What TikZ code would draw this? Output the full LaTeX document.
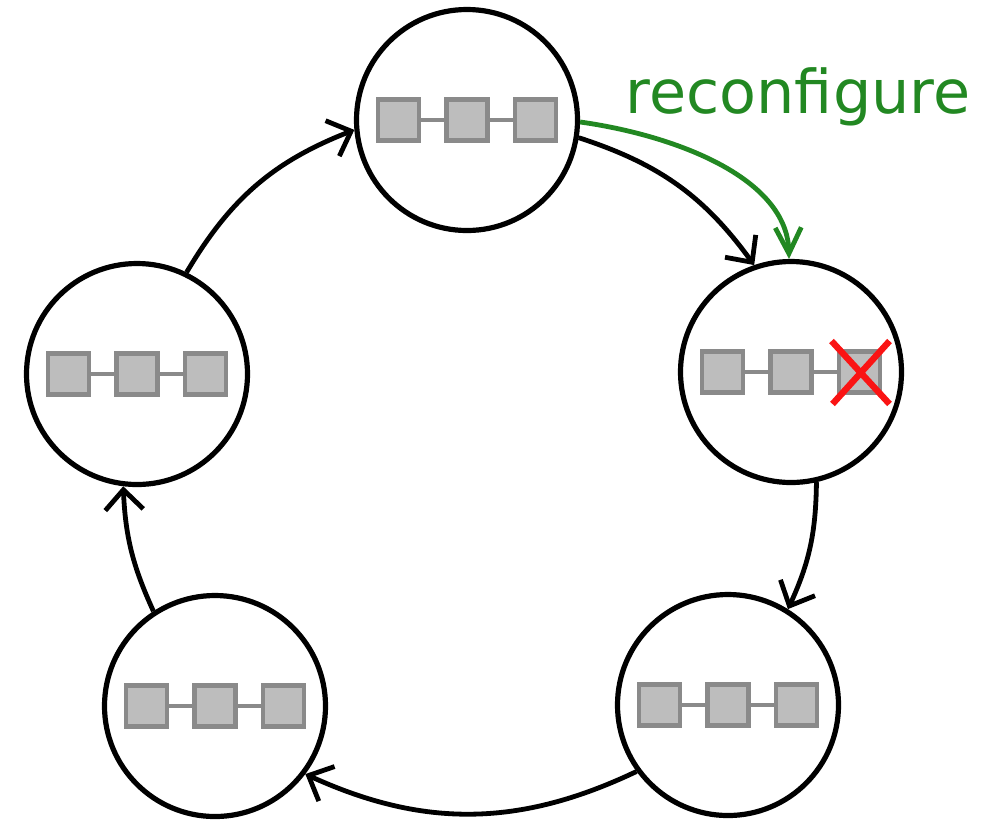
\documentclass[tikz,border=0pt]{standalone}
\usepackage{fontspec}
\newfontfamily\labelfont{DejaVu Sans}
\usetikzlibrary{arrows.meta}
\definecolor{boxfill}{RGB}{189,189,189}
\definecolor{boxedge}{RGB}{138,138,138}
\definecolor{cfggreen}{RGB}{34,136,34}
\definecolor{failred}{RGB}{250,20,20}

\begin{document}
\begin{tikzpicture}[x=0.5pt,y=0.5pt,
  site/.style={circle,draw=black,line width=2.6pt,minimum size=110.5pt,inner sep=0pt,fill=white},
  sq/.style={rectangle,draw=boxedge,fill=boxfill,line width=2.2pt,minimum size=20.5pt,inner sep=0pt},
  link/.style={draw=boxedge,line width=2.2pt},
  flow/.style={line width=2.4pt,-{Straight Barb[length=10pt,width=19pt]}},
  cfg/.style={draw=cfggreen,line width=2.4pt,-{Straight Barb[length=13pt,width=13pt]}},
  cross/.style={draw=failred,line width=3.2pt},
  chain/.pic={
    \node[sq] (-a) at (-68.5,0) {};
    \node[sq] (-b) at (0,0) {};
    \node[sq] (-c) at (68.5,0) {};
    \draw[link] (-a) -- (-b) (-b) -- (-c);
  }]
\useasboundingbox (0,0) rectangle (984,-821);

% the five sites of the ring
\node[site] (top)    at (467,-120) {};
\node[site] (right)  at (791,-372) {};
\node[site] (bright) at (728,-705) {};
\node[site] (bleft)  at (215,-706) {};
\node[site] (left)   at (137,-374) {};

% a chain of three replicas in each site
\pic (tc)  at (top)    {chain};
\pic (rc)  at (right)  {chain};
\pic (brc) at (bright) {chain};
\pic (blc) at (bleft)  {chain};
\pic (lc)  at (left)   {chain};

% failed replica
\draw[cross] ([shift={(-28,31)}]rc-c.center) -- ([shift={(30,-32)}]rc-c.center);
\draw[cross] ([shift={(30,31)}]rc-c.center) -- ([shift={(-27,-32)}]rc-c.center);

% ring connections, clockwise
\draw[flow] (top.-9) to[bend left=18] (right.109.5);
\draw[flow] (right.-77) to[bend left=12] (bright.58);
\draw[flow] (bright.-144) to[bend left=25] (bleft.-37);
\draw[flow] (bleft.123) to[bend left=11] (left.-97);
\draw[flow] (left.64) to[bend left=19] (top.-175);

% reconfiguration step
\draw[cfg] (top.-1) .. controls +(93,-13) and +(-2,82) .. (right.91.5);
\node[text=cfggreen,font=\labelfont\fontsize{30.2pt}{33pt}\selectfont,anchor=base,inner sep=0pt] (label) at (798,-113) {reconfigure};
\end{tikzpicture}
\end{document}
